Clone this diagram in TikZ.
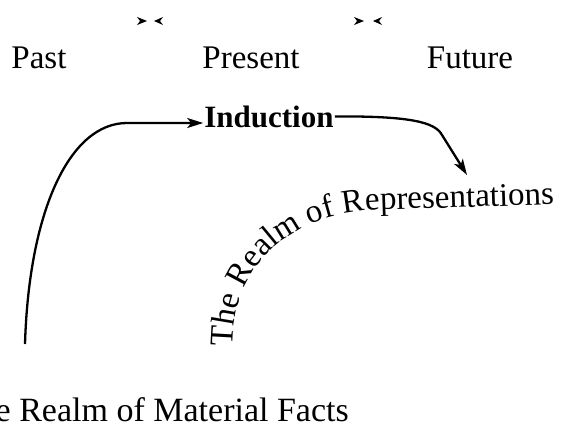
\documentclass[tikz,border=0pt]{standalone}
\usepackage{fontspec}
\setmainfont{Liberation Serif}
\usetikzlibrary{arrows.meta,decorations.text,calc}
\begin{document}
\begin{tikzpicture}[x=1pt,y=-1pt,
  lbl/.style={font=\fontsize{33}{38}\selectfont, inner sep=0pt, anchor=base},
  conn/.style={line width=2.3pt, -{Stealth[length=16pt,width=10pt,inset=4pt]}},
  tinytip/.style={fill=black}]
\useasboundingbox (0,0) rectangle (561,428);
\clip (0,0) rectangle (561,428);
\node[lbl] (past) at (39,68) {Past};
\node[lbl] (present) at (251,68) {Present};
\node[lbl] (future) at (470,68) {Future};
\node[lbl, font=\fontsize{31}{36}\selectfont\bfseries, inner sep=1pt] (ind) at (269,127) {Induction};
\node[lbl, anchor=base east, font=\fontsize{34}{38}\selectfont] (facts) at (349,421) {The Realm of Material Facts};
% boundary marks
\fill[tinytip] (147,21) -- (137,17) -- (140,21) -- (137,25) -- cycle;
\fill[tinytip] (154,21) -- (163,17) -- (160,21) -- (163,25) -- cycle;
\fill[tinytip] (364,21) -- (354,17) -- (357,21) -- (354,25) -- cycle;
\fill[tinytip] (373,21) -- (382,17) -- (379,21) -- (382,25) -- cycle;
% connectors
\coordinate (start) at (25,344);
\coordinate (repend) at (467,175);
\draw[conn] (start) .. controls (29,210) and (70,123) .. (127,123) -- ($(ind.base west)+(0,-4)$);
\draw[conn] (ind.east) .. controls (410,116) and (435,122) .. (442,135) -- (repend);
% curved text
\path[decorate, decoration={text along path, text align=left,
  text={|\fontsize{33}{38}\selectfont|The Realm of Representations}}]
  (233,347) .. controls (233,258) and (295,215) .. (375,210) -- (600,203);
\end{tikzpicture}
\end{document}
